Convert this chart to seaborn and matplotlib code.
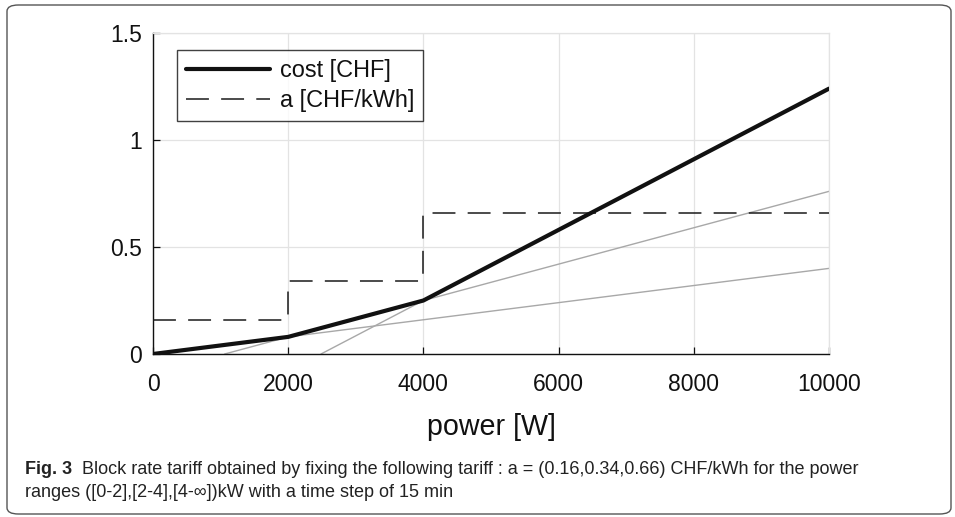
import matplotlib
matplotlib.use("Agg")
import matplotlib.pyplot as plt
import seaborn as sns
import pandas as pd
from matplotlib.patches import FancyBboxPatch
from matplotlib.lines import Line2D

# ---- data ----
power_breaks = [0, 2000, 4000, 10000]          # W
cost_values = [0, 0.08, 0.25, 1.24]             # CHF
rate_values = [0.16, 0.34, 0.66, 0.66]          # CHF/kWh (step, post)
ext1_x = [2000, 10000]; ext1_y = [0.08, 0.40]   # extension of block 1
ext2_x = [1060, 10000]; ext2_y = [0.0, 0.76]    # extension of block 2
ext3_x = [2485, 4000];  ext3_y = [0.0, 0.25]    # extension of block 3
x_ticks = [0, 2000, 4000, 6000, 8000, 10000]
y_ticks = [0, 0.5, 1, 1.5]
y_tick_labels = ["0", "0.5", "1", "1.5"]

sns.set_theme(style="white")
plt.rcParams['font.family'] = ['Liberation Sans', 'DejaVu Sans']

fig = plt.figure(figsize=(9.55, 5.17), dpi=100)
ax = fig.add_axes([153/955, 1-354/517, (829-153)/955, (354-33)/517])

gray = "#a8a8a8"
for ex, ey in [(ext1_x, ext1_y), (ext2_x, ext2_y), (ext3_x, ext3_y)]:
    sns.lineplot(x=ex, y=ey, ax=ax, color=gray, lw=1.0, zorder=2)

df_rate = pd.DataFrame({"power": power_breaks, "a": rate_values})
sns.lineplot(data=df_rate, x="power", y="a", ax=ax, color="#1a1a1a", lw=1.1,
             drawstyle="steps-post", zorder=3)
ax.lines[-1].set_dashes((15, 8))

df_cost = pd.DataFrame({"power": power_breaks, "cost": cost_values})
sns.lineplot(data=df_cost, x="power", y="cost", ax=ax, color="#111111", lw=3.0, zorder=4)

ax.set_xlim(0, 10000)
ax.set_ylim(0, 1.5)
ax.set_xticks(x_ticks)
ax.set_xticklabels([str(t) for t in x_ticks])
ax.set_yticks(y_ticks)
ax.set_yticklabels(y_tick_labels)
ax.tick_params(direction="in", length=5, width=0.9, colors="#111111",
               labelsize=16.5, bottom=True, left=True, labelcolor="#111111")
ax.tick_params(axis="x", pad=14)
ax.tick_params(axis="y", pad=8)
ax.grid(True, color="#e3e3e3", lw=0.9)
ax.set_axisbelow(True)
for s in ["left", "bottom"]:
    ax.spines[s].set_color("#111111")
    ax.spines[s].set_linewidth(1.0)
for s in ["top", "right"]:
    ax.spines[s].set_color("#e3e3e3")
    ax.spines[s].set_linewidth(0.9)
ax.set_xlabel("power [W]", fontsize=20.6, color="#111111", labelpad=12)
ax.set_ylabel("")

handles = [Line2D([], [], color="#111111", lw=3.0),
           Line2D([], [], color="#1a1a1a", lw=1.1, dashes=(15, 8))]
leg = ax.legend(handles, ["cost [CHF]", "a [CHF/kWh]"], loc="upper left",
                bbox_to_anchor=(24/676, 1-17/321), fontsize=16.9, frameon=True,
                fancybox=False, handlelength=3.6, handletextpad=0.4,
                borderpad=0.38, labelspacing=0.3, borderaxespad=0)
leg.get_frame().set_edgecolor("#111111")
leg.get_frame().set_linewidth(1.0)
for t in leg.get_texts():
    t.set_color("#111111")

# border box
border = FancyBboxPatch((7/955, 3/517), (951-7)/955, (513-4)/517,
                        boxstyle="round,pad=0,rounding_size=0.012",
                        transform=fig.transFigure, fill=False,
                        edgecolor="#555555", lw=1.0)
fig.patches.append(border)

cap_font = ['Liberation Sans', 'DejaVu Sans']
cap_size = 13
y1, y2 = 474, 497
fig_label = fig.text(25/955, 1-y1/517, "Fig. 3", fontsize=cap_size, fontweight="bold",
                     family=cap_font, color="#222222", va="baseline")
fig.canvas.draw()
bb = fig_label.get_window_extent()
fig.text((bb.x1 + 10)/955, 1-y1/517,
         "Block rate tariff obtained by fixing the following tariff : a = (0.16,0.34,0.66) CHF/kWh for the power",
         fontsize=cap_size, family=cap_font, color="#222222", va="baseline")
fig.text(25/955, 1-y2/517,
         "ranges ([0-2],[2-4],[4-\u221e])kW with a time step of 15 min",
         fontsize=cap_size, family=cap_font, color="#222222", va="baseline")

fig.savefig("out.png", dpi=100)
